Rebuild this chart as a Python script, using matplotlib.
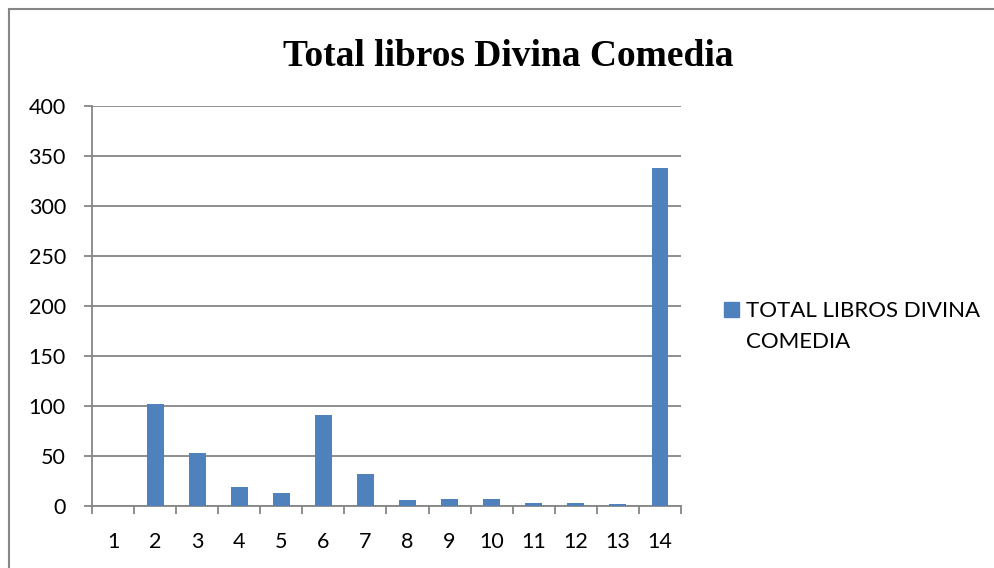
import matplotlib.pyplot as plt
from matplotlib.patches import Rectangle

# values
categories = ['1', '2', '3', '4', '5', '6', '7', '8', '9', '10', '11', '12', '13', '14']
totals = [0, 102, 53, 19, 13, 91, 32, 6, 7, 7, 3, 3, 2, 338]
y_ticks = [0, 50, 100, 150, 200, 250, 300, 350, 400]
series_label = 'TOTAL LIBROS DIVINA\nCOMEDIA'
title = 'Total libros Divina Comedia'

bar_color = '#4f81bd'
line_color = '#868686'

W, H = 995, 568
fig = plt.figure(figsize=(W / 100, H / 100), dpi=100)

# outer chart border (cut off at right and bottom, like the screenshot)
fig.patches.append(Rectangle((8.5 / W, -0.1), 1.2, (H - 8.5) / H + 0.1,
                             transform=fig.transFigure, fill=False,
                             edgecolor=line_color, linewidth=1.5))

ax = fig.add_axes([92 / W, (H - 506) / H, 589 / W, 400 / H])

x = list(range(len(categories)))
ax.bar(x, totals, width=0.4, color=bar_color, zorder=3)

ax.set_xlim(-0.5, len(categories) - 0.5)
ax.set_ylim(0, 400)
ax.set_yticks(y_ticks)
ax.yaxis.grid(True, color=line_color, linewidth=1.3, zorder=0)

# category ticks sit on the boundaries, labels in the middle
ax.set_xticks([i - 0.5 for i in range(len(categories) + 1)])
ax.set_xticklabels([])
ax.set_xticks(x, minor=True)
ax.set_xticklabels(categories, minor=True)
ax.tick_params(axis='x', which='major', length=5.8, width=1.3, color=line_color)
ax.tick_params(axis='x', which='minor', length=0, pad=19)
ax.tick_params(axis='y', length=5.8, width=1.3, color=line_color, pad=13)

for lab in ax.get_xticklabels(minor=True) + ax.get_yticklabels():
    lab.set_fontfamily('Lato')
    lab.set_fontsize(15.5)

for side in ['top', 'right']:
    ax.spines[side].set_visible(False)
for side in ['left', 'bottom']:
    ax.spines[side].set_color(line_color)
    ax.spines[side].set_linewidth(1.3)

fig.text(508.5 / W, (H - 66) / H, title, ha='center', va='baseline',
         fontfamily='Liberation Serif', fontweight='bold', fontsize=27)

# legend drawn by hand: square key next to the first line of the label
fig.patches.append(Rectangle((724 / W, (H - 317) / H), 15 / W, 15 / H,
                             transform=fig.transFigure, color=bar_color))
for i, line in enumerate(series_label.split('\n')):
    fig.text(746 / W, (H - 317 - 31 * i) / H, line, ha='left', va='baseline',
             fontfamily='Lato', fontsize=16)

fig.savefig('out.png', dpi=100)
